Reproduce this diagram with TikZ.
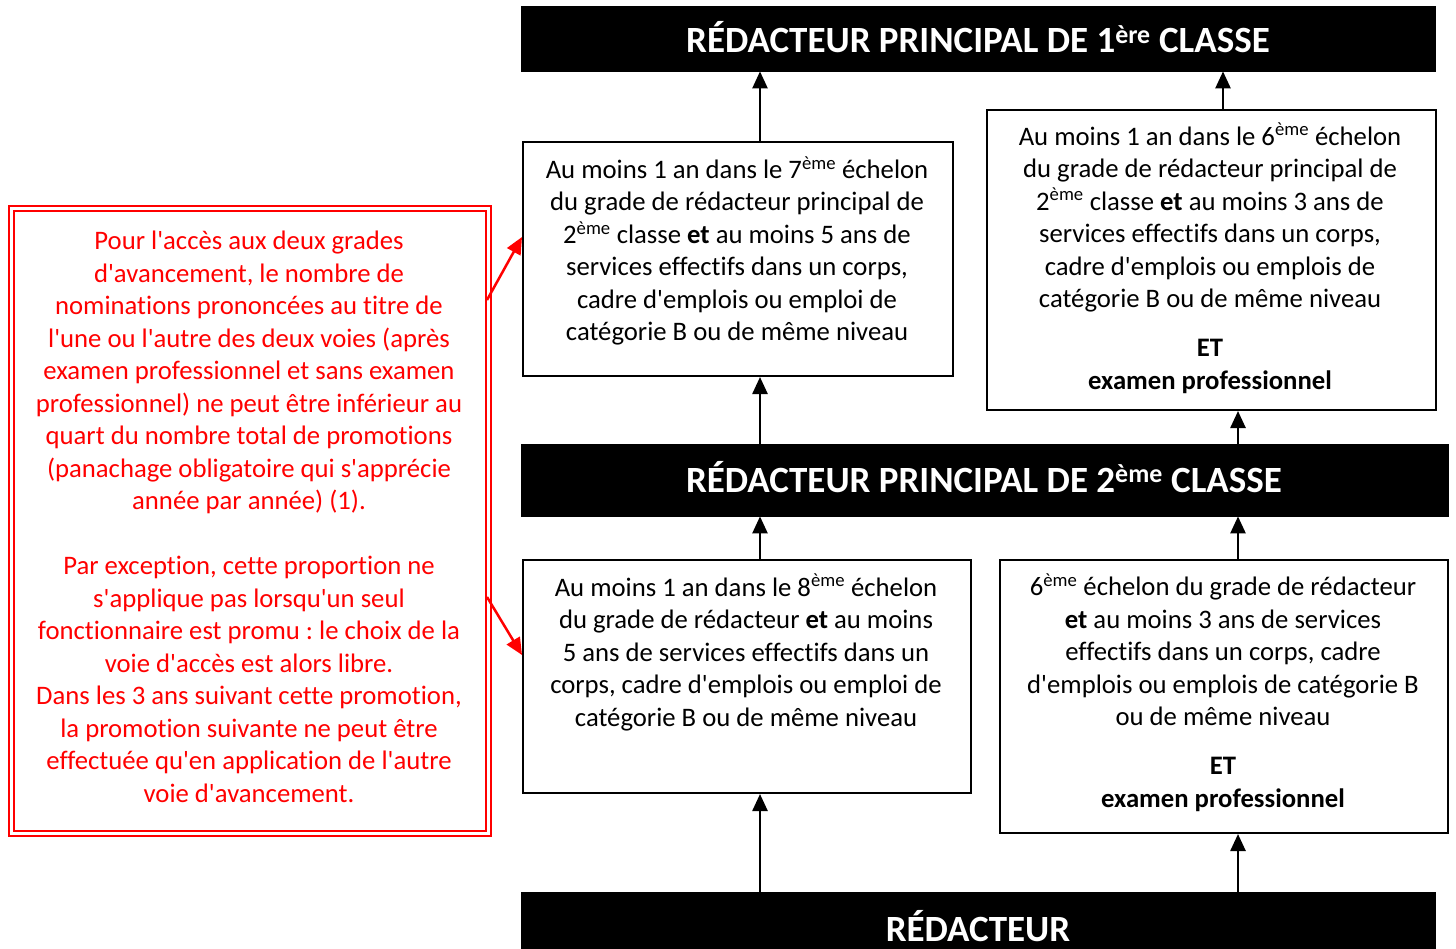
\documentclass[tikz,border=0pt]{standalone}
\usepackage{fontspec}
\setmainfont{Carlito}[Ligatures={TeXOff,NoCommon}]
\usetikzlibrary{arrows.meta}
\frenchspacing
\begin{document}
\begin{tikzpicture}[x=1pt,y=-1pt,
  banner/.style={fill=black,draw=black,inner sep=0pt,anchor=north west},
  box/.style={draw=black,line width=2pt,fill=white,inner sep=0pt,anchor=north west},
  title/.style={text=white,font=\fontsize{37}{44}\selectfont\bfseries,inner sep=0pt,anchor=base},
  body/.style={align=center,font=\fontsize{26.7}{32.5}\selectfont,inner sep=0pt,anchor=base},
  redbody/.style={body,text=red},
  arr/.style={line width=2.5pt,-{Triangle[width=15pt,length=17pt]}},
  redarr/.style={draw=red,line width=2.5pt,-{Triangle[width=15pt,length=17pt]}},
]
\useasboundingbox (0,0) rectangle (1456,949);
\fill[white] (0,0) rectangle (1456,949);

% banners
\node[banner,minimum width=914pt,minimum height=65pt] (T) at (521,6) {};
\node[banner,minimum width=927pt,minimum height=72pt] (M) at (521,444) {};
\node[banner,minimum width=914pt,minimum height=60pt] (B) at (521,892) {};
\node[title] (Tt) at (978,53) {RÉDACTEUR PRINCIPAL DE 1\textsuperscript{ère} CLASSE};
\node[title] (Mt) at (984,492) {RÉDACTEUR PRINCIPAL DE 2\textsuperscript{ème} CLASSE};
\node[title] (Bt) at (978,941) {RÉDACTEUR};

% boxes
\node[box,minimum width=430pt,minimum height=234pt] (A) at (522,141) {};
\node[box,minimum width=449pt,minimum height=300pt] (Bx) at (986,109) {};
\node[box,minimum width=448pt,minimum height=233pt] (C) at (522,559) {};
\node[box,minimum width=448pt,minimum height=273pt] (D) at (999,559) {};

\node[body] (At) at (737,341) {Au moins 1 an dans le 7\textsuperscript{ème} échelon\\
du grade de rédacteur principal de\\
2\textsuperscript{ème} classe \textbf{et} au moins 5 ans de\\
services effectifs dans un corps,\\
cadre d'emplois ou emploi de\\
catégorie B ou de même niveau};

\node[body] (Bxt) at (1210,389) {Au moins 1 an dans le 6\textsuperscript{ème} échelon\\
du grade de rédacteur principal de\\
2\textsuperscript{ème} classe \textbf{et} au moins 3 ans de\\
services effectifs dans un corps,\\
cadre d'emplois ou emplois de\\
catégorie B ou de même niveau\\[16.5pt]
\textbf{ET}\\
\textbf{examen professionnel}};

\node[body] (Ct) at (746,726) {Au moins 1 an dans le 8\textsuperscript{ème} échelon\\
du grade de rédacteur \textbf{et} au moins\\
5 ans de services effectifs dans un\\
corps, cadre d'emplois ou emploi de\\
catégorie B ou de même niveau};

\node[body] (Dt) at (1223,807) {6\textsuperscript{ème} échelon du grade de rédacteur\\
\textbf{et} au moins 3 ans de services\\
effectifs dans un corps, cadre\\
d'emplois ou emplois de catégorie B\\
ou de même niveau\\[16.5pt]
\textbf{ET}\\
\textbf{examen professionnel}};

% red box
\node[draw=red,line width=2pt,inner sep=0pt,anchor=north west,minimum width=482pt,minimum height=630pt] (R) at (8,205) {};
\node[draw=red,line width=2pt,inner sep=0pt,anchor=north west,minimum width=472pt,minimum height=620pt] (Ri) at (13,210) {};
\node[redbody] (Rt) at (249,802) {Pour l'accès aux deux grades\\
d'avancement, le nombre de\\
nominations prononcées au titre de\\
l'une ou l'autre des deux voies (après\\
examen professionnel et sans examen\\
professionnel) ne peut être inférieur au\\
quart du nombre total de promotions\\
(panachage obligatoire qui s'apprécie\\
année par année) (1).\\[32.5pt]
Par exception, cette proportion ne\\
s'applique pas lorsqu'un seul\\
fonctionnaire est promu : le choix de la\\
voie d'accès est alors libre.\\
Dans les 3 ans suivant cette promotion,\\
la promotion suivante ne peut être\\
effectuée qu'en application de l'autre\\
voie d'avancement.};

% arrow columns
\coordinate (xL) at (760,0);
\coordinate (xR) at (1238,0);
\coordinate (xB) at (1223,0);
\coordinate (r1) at (487,300);
\coordinate (r2) at (487,597);

\draw[arr] (A.north -| xL) -- (T.south -| xL);
\draw[arr] (Bx.north -| xB) -- (T.south -| xB);
\draw[arr] (M.north -| xL) -- (A.south -| xL);
\draw[arr] (M.north -| xR) -- (Bx.south -| xR);
\draw[arr] (C.north -| xL) -- (M.south -| xL);
\draw[arr] (D.north -| xR) -- (M.south -| xR);
\draw[arr] (B.north -| xL) -- (C.south -| xL);
\draw[arr] (B.north -| xR) -- (D.south -| xR);

\draw[redarr] (r1) -- (A.west |- 0,237);
\draw[redarr] (r2) -- (C.west |- 0,655);
\end{tikzpicture}
\end{document}
